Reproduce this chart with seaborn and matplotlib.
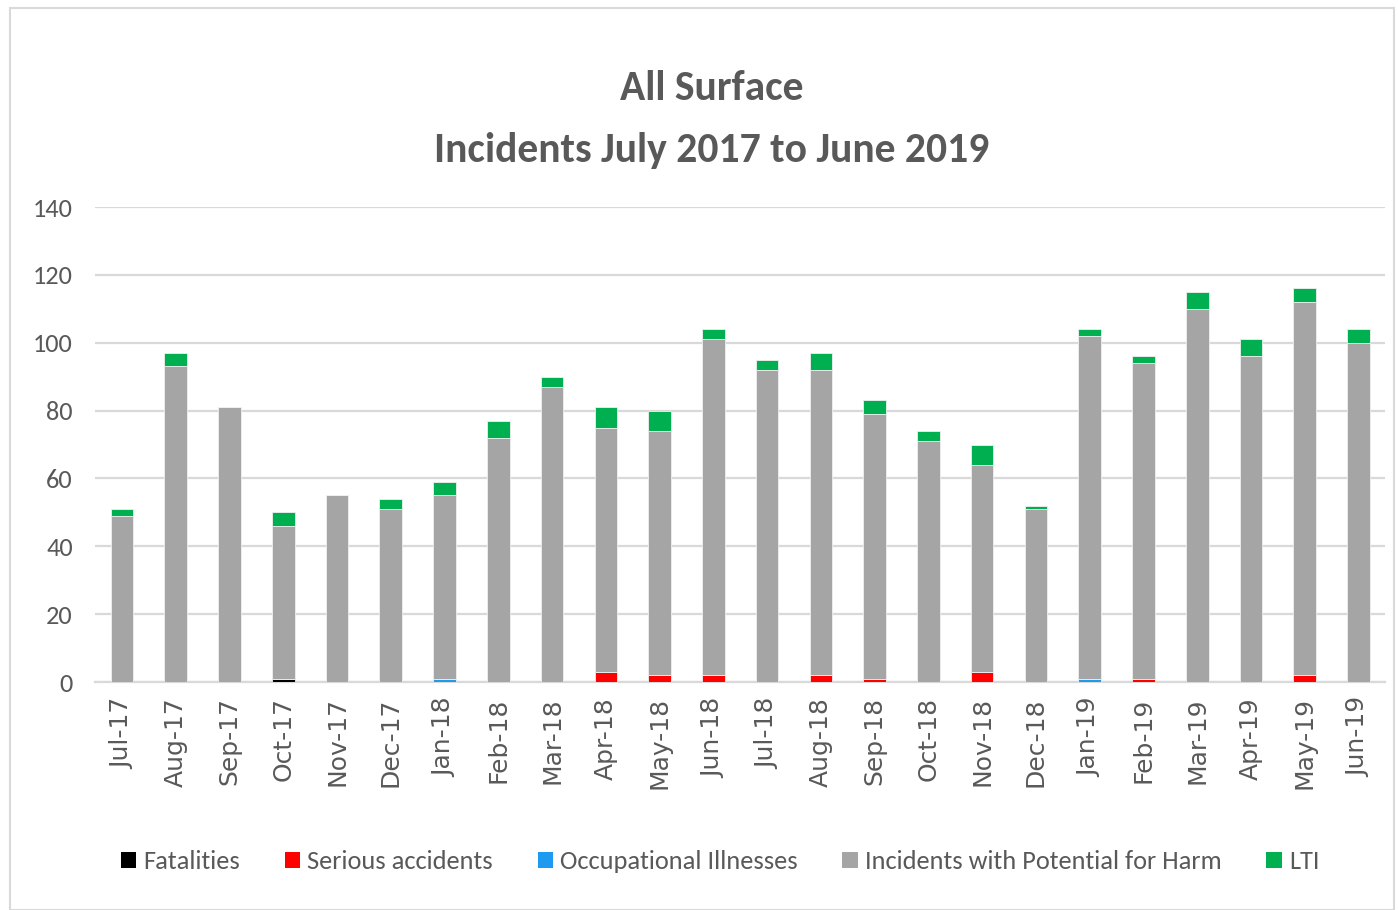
import pandas as pd
import matplotlib.pyplot as plt
import seaborn as sns
from matplotlib.patches import Patch, Rectangle

months = ['Jul-17', 'Aug-17', 'Sep-17', 'Oct-17', 'Nov-17', 'Dec-17',
          'Jan-18', 'Feb-18', 'Mar-18', 'Apr-18', 'May-18', 'Jun-18',
          'Jul-18', 'Aug-18', 'Sep-18', 'Oct-18', 'Nov-18', 'Dec-18',
          'Jan-19', 'Feb-19', 'Mar-19', 'Apr-19', 'May-19', 'Jun-19']
fatalities = [0, 0, 0, 1, 0, 0, 0, 0, 0, 0, 0, 0,
              0, 0, 0, 0, 0, 0, 0, 0, 0, 0, 0, 0]
serious = [0, 0, 0, 0, 0, 0, 0, 0, 0, 3, 2, 2,
           0, 2, 1, 0, 3, 0, 0, 1, 0, 0, 2, 0]
occupational = [0, 0, 0, 0, 0, 0, 1, 0, 0, 0, 0, 0,
                0, 0, 0, 0, 0, 0, 1, 0, 0, 0, 0, 0]
potential_harm = [49, 93, 81, 45, 55, 51, 54, 72, 87, 72, 72, 99,
                  92, 90, 78, 71, 61, 51, 101, 93, 110, 96, 110, 100]
lti = [2, 4, 0, 4, 0, 3, 4, 5, 3, 6, 6, 3,
       3, 5, 4, 3, 6, 1, 2, 2, 5, 5, 4, 4]

df = pd.DataFrame({'month': months,
                   'Fatalities': fatalities,
                   'Serious accidents': serious,
                   'Occupational Illnesses': occupational,
                   'Incidents with Potential for Harm': potential_harm,
                   'LTI': lti})

colors = {'Fatalities': '#000000',
          'Serious accidents': '#FF0000',
          'Occupational Illnesses': '#1E9BF0',
          'Incidents with Potential for Harm': '#A5A5A5',
          'LTI': '#00B050'}

sns.set_style('white')
plt.rcParams['font.family'] = ['Carlito', 'Open Sans Condensed', 'DejaVu Sans']
text_color = '#595959'
grid_color = '#D9D9D9'

fig = plt.figure(figsize=(13.98, 9.1), dpi=100)
ax = fig.add_axes([0.068, 0.2505, 0.923, 0.522])

bottom = pd.Series([0] * len(months))
for name, c in colors.items():
    sns.barplot(x=df['month'], y=df[name], bottom=bottom.values, color=c,
                width=0.42, saturation=1, edgecolor='#EFEFEF', linewidth=0.6,
                ax=ax, zorder=3)
    bottom = bottom + df[name]

ax.set_ylim(0, 140)
ax.set_xlim(-0.5, len(months) - 0.5)
ax.set_yticks(range(0, 141, 20))
ax.yaxis.grid(True, color=grid_color, linewidth=1.6, zorder=0)
ax.set_axisbelow(True)
for s in ['top', 'right', 'left']:
    ax.spines[s].set_visible(False)
ax.spines['bottom'].set_color(grid_color)
ax.spines['bottom'].set_linewidth(1.6)
ax.set_xlabel('')
ax.set_ylabel('')

ax.tick_params(axis='y', length=0, labelsize=19, labelcolor=text_color, pad=16)
ax.set_xticks([i - 0.5 for i in range(len(months) + 1)], minor=True)
ax.tick_params(axis='x', which='minor', length=10, width=1.6, color=grid_color)
ax.tick_params(axis='x', which='major', length=0, pad=11)
ax.set_xticks(range(len(months)))
ax.set_xticklabels(months, rotation=90, fontsize=18, color=text_color,
                   family='DejaVu Sans')

fig.text(0.509, 0.903, 'All Surface', ha='center', va='center',
         fontsize=30, fontweight='bold', color=text_color)
fig.text(0.509, 0.835, 'Incidents July 2017 to June 2019', ha='center',
         va='center', fontsize=30, fontweight='bold', color=text_color)

handles = [Patch(facecolor=c, edgecolor='none', label=n) for n, c in colors.items()]
fig.legend(handles=handles, loc='center', bbox_to_anchor=(0.515, 0.053),
           ncol=5, frameon=False, fontsize=19, labelcolor=text_color,
           handlelength=0.6, handleheight=0.6, handletextpad=0.25,
           columnspacing=1.7)

fig.add_artist(Rectangle((0.007, 0.0), 0.99, 0.991, transform=fig.transFigure,
                         fill=False, edgecolor=grid_color, linewidth=1.5))

fig.savefig('out.png', dpi=100)
